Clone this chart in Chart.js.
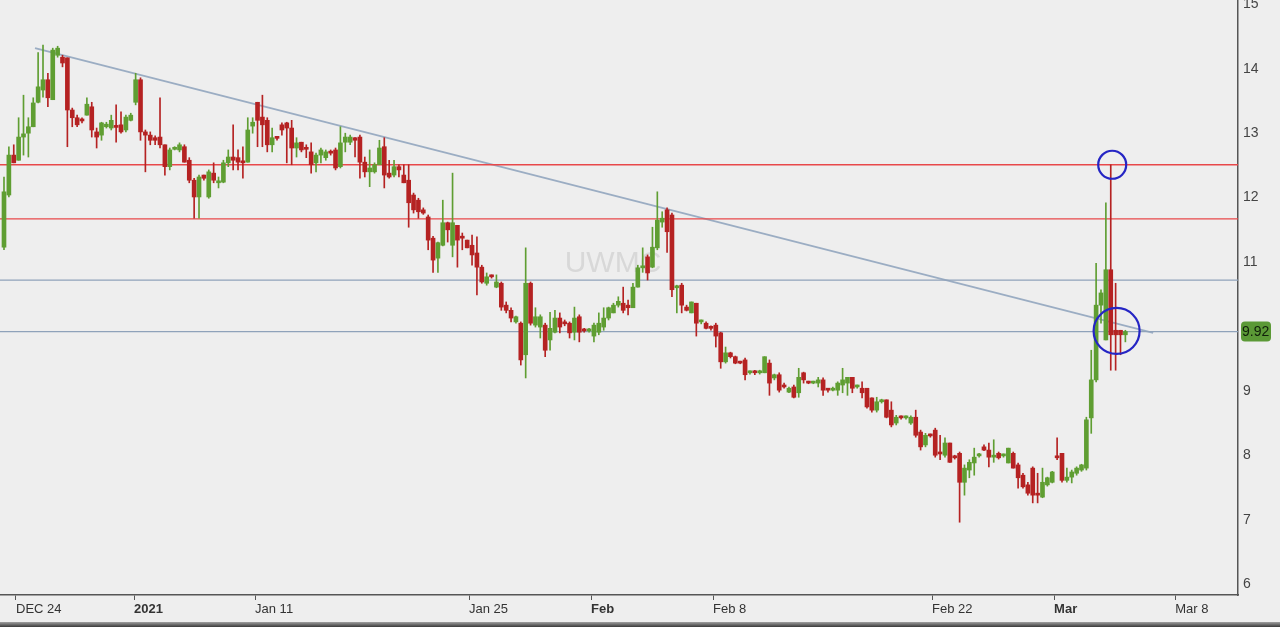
<!DOCTYPE html>
<html>
<head>
<meta charset="utf-8">
<script src="https://cdn.jsdelivr.net/npm/chart.js@4.4.0/dist/chart.umd.min.js"></script>
<style>
  html, body { margin: 0; padding: 0; background: #eeeeee; overflow: hidden; }
  #wrap { position: relative; width: 1280px; height: 627px; }
  #band { position: absolute; left: 0; top: 622px; width: 1280px; height: 5px;
          background: linear-gradient(#a0a0a0, #3a3a3a); }
</style>
</head>
<body>
<div id="wrap">
  <canvas id="chart" width="1280" height="627"></canvas>
  <div id="band"></div>
</div>
<script>
// UWMC hourly-ish candles, Dec 23 -> Mar 3
const opens = [
  11.23,12.04,12.66,12.58,12.94,13.00,13.10,13.48,13.67,13.83,
  13.52,14.21,14.18,14.17,13.36,13.24,13.20,13.28,13.41,13.02,
  12.97,13.10,13.08,13.11,13.13,13.05,13.20,13.48,13.83,13.02,
  12.97,12.93,12.94,12.82,12.48,12.75,12.74,12.79,12.58,12.27,
  12.01,12.35,12.01,12.38,12.23,12.24,12.54,12.63,12.62,12.57,
  12.55,13.11,13.48,13.25,13.20,12.82,12.93,13.13,13.16,13.08,
  12.77,12.86,12.77,12.71,12.54,12.66,12.62,12.71,12.74,12.48,
  12.86,12.86,12.93,12.94,12.55,12.40,12.40,12.51,12.79,12.38,
  12.35,12.48,12.35,12.27,12.04,11.96,11.81,11.70,11.37,11.06,
  11.26,11.61,11.26,11.57,11.39,11.34,11.26,11.14,10.92,10.67,
  10.80,10.61,10.67,10.33,10.25,10.07,10.05,9.56,10.67,10.02,
  9.99,10.02,9.79,9.91,10.13,10.07,10.05,9.91,10.15,9.96,
  9.93,9.85,9.91,9.99,10.13,10.21,10.33,10.36,10.33,10.29,
  10.61,10.91,11.08,10.92,11.22,11.62,11.81,11.73,10.60,10.64,
  10.30,10.21,10.36,10.07,10.05,9.99,10.02,9.90,9.45,9.59,
  9.53,9.45,9.48,9.28,9.29,9.28,9.28,9.43,9.20,9.25,
  9.07,8.98,9.06,8.97,9.28,9.14,9.12,9.12,9.17,9.03,
  9.01,9.01,9.09,9.12,9.21,9.06,9.04,9.04,8.89,8.70,
  8.83,8.86,8.70,8.50,8.59,8.58,8.50,8.59,8.36,8.16,
  8.31,8.39,8.05,8.00,8.19,7.99,8.03,7.58,7.77,7.88,
  7.99,8.13,8.08,7.97,8.03,7.99,7.88,8.03,7.85,7.69,
  7.54,7.80,7.41,7.35,7.54,7.58,7.99,8.03,7.61,7.66,
  7.72,7.77,7.80,8.58,9.17,10.33,9.79,10.88,9.94,9.94,
  9.87
];
const highs = [
  12.32,12.79,12.82,13.24,13.59,13.24,13.55,14.25,14.37,13.93,
  14.32,14.35,14.21,14.17,13.39,13.28,13.24,13.55,13.48,13.08,
  13.17,13.17,13.28,13.44,13.33,13.28,13.31,13.93,13.86,13.05,
  13.02,12.96,13.55,12.82,12.77,12.79,12.85,12.82,12.62,12.30,
  12.35,12.35,12.43,12.54,12.32,12.58,12.74,13.13,12.74,12.79,
  13.24,13.24,13.48,13.59,13.24,13.08,12.94,13.16,13.17,13.20,
  12.93,12.86,12.82,12.85,12.69,12.77,12.74,12.74,12.77,13.10,
  13.00,12.97,12.93,12.97,12.63,12.74,12.54,12.89,12.93,12.58,
  12.58,12.51,12.51,12.51,12.07,11.99,11.84,11.73,11.40,11.31,
  11.96,11.62,12.38,11.57,11.45,11.34,11.42,11.39,10.95,10.83,
  10.80,10.80,10.69,10.38,10.29,10.16,10.07,11.22,10.69,10.29,
  10.18,10.05,10.22,10.25,10.21,10.10,10.07,10.30,10.18,9.97,
  9.97,10.05,10.21,10.29,10.30,10.36,10.46,10.61,10.41,10.67,
  10.95,11.22,11.11,11.54,12.09,11.78,11.84,11.76,10.64,10.67,
  10.33,10.38,10.36,10.10,10.07,10.01,10.05,9.91,9.68,9.60,
  9.54,9.46,9.51,9.31,9.32,9.32,9.53,9.48,9.26,9.28,
  9.12,9.06,9.09,9.35,9.29,9.15,9.15,9.21,9.20,9.04,
  9.06,9.14,9.35,9.21,9.21,9.09,9.14,9.04,8.89,8.90,
  8.87,8.86,8.83,8.62,8.61,8.61,8.61,8.70,8.39,8.34,
  8.33,8.42,8.31,8.27,8.19,8.00,8.05,7.85,7.93,8.11,
  8.03,8.16,8.19,8.24,8.05,8.02,8.11,8.05,7.88,7.72,
  7.58,7.82,7.72,7.80,7.66,7.75,8.27,8.03,7.80,7.77,
  7.82,7.86,8.59,9.63,10.98,10.57,11.92,12.51,10.67,9.94,
  9.94
];
const lows = [
  11.19,12.01,12.54,12.58,12.66,12.63,13.10,13.47,13.56,13.41,
  13.52,14.18,14.03,12.79,13.10,13.10,13.16,13.28,12.94,12.77,
  12.89,13.08,13.05,12.86,13.00,13.02,13.19,13.44,12.89,12.40,
  12.82,12.82,12.77,12.35,12.43,12.74,12.71,12.55,12.23,11.68,
  11.68,12.27,11.99,12.23,12.15,12.23,12.48,12.43,12.43,12.30,
  12.55,13.00,12.79,12.79,12.71,12.71,12.89,12.97,12.54,12.51,
  12.63,12.71,12.62,12.38,12.40,12.54,12.58,12.66,12.43,12.46,
  12.71,12.82,12.63,12.30,12.32,12.17,12.38,12.51,12.15,12.30,
  12.32,12.32,12.23,11.54,11.76,11.68,11.74,11.19,10.84,10.84,
  11.25,11.31,11.08,10.92,11.19,11.22,10.95,10.49,10.67,10.64,
  10.75,10.60,10.25,10.21,10.07,10.05,9.40,9.20,10.02,9.99,
  9.82,9.53,9.63,9.90,9.90,10.01,9.82,9.79,9.76,9.91,
  9.91,9.76,9.87,9.94,10.10,10.21,10.30,10.21,10.18,10.29,
  10.61,10.84,10.72,10.91,11.19,11.54,11.15,10.46,10.21,10.21,
  10.24,10.21,9.85,10.04,9.96,9.94,9.68,9.35,9.43,9.51,
  9.42,9.42,9.17,9.26,9.25,9.26,9.28,8.93,9.17,8.98,
  9.04,8.97,8.89,8.90,9.12,9.11,9.11,9.06,8.93,8.98,
  9.00,8.93,8.97,8.93,8.97,9.04,8.89,8.73,8.67,8.67,
  8.81,8.58,8.44,8.47,8.56,8.56,8.48,8.28,8.08,8.13,
  8.28,7.97,7.93,7.97,7.89,7.94,6.96,7.38,7.65,7.69,
  7.97,8.07,7.82,7.89,7.94,7.97,7.88,7.80,7.49,7.49,
  7.38,7.26,7.26,7.34,7.52,7.57,7.93,7.58,7.58,7.57,
  7.69,7.75,7.77,8.34,9.14,10.05,9.79,9.32,9.32,9.56,
  9.76
];
const closes = [
  12.09,12.66,12.54,12.94,12.99,13.10,13.47,13.72,13.83,13.55,
  14.29,14.32,14.09,13.36,13.24,13.13,13.19,13.45,13.05,12.94,
  13.16,13.14,13.20,13.09,13.02,13.25,13.28,13.83,13.02,12.97,
  12.89,12.89,12.82,12.48,12.74,12.77,12.82,12.55,12.27,12.01,
  12.32,12.30,12.40,12.27,12.26,12.54,12.63,12.58,12.55,12.54,
  13.05,13.17,13.20,13.13,12.82,12.93,12.92,13.05,13.08,12.77,
  12.85,12.74,12.75,12.51,12.66,12.74,12.71,12.69,12.46,12.85,
  12.94,12.94,12.89,12.55,12.40,12.46,12.51,12.77,12.35,12.32,
  12.48,12.43,12.23,11.92,11.81,11.78,11.76,11.34,11.03,11.30,
  11.61,11.50,11.61,11.34,11.37,11.22,11.11,10.92,10.69,10.77,
  10.77,10.69,10.30,10.25,10.13,10.15,9.48,10.67,10.05,10.15,
  10.15,9.63,9.97,10.13,9.99,10.04,9.90,10.13,9.91,9.93,
  9.96,10.02,10.05,10.13,10.29,10.33,10.39,10.25,10.29,10.61,
  10.91,10.94,10.83,11.23,11.65,11.68,11.47,10.57,10.63,10.33,
  10.25,10.38,10.05,10.08,9.97,9.97,9.85,9.45,9.59,9.53,
  9.43,9.43,9.25,9.29,9.28,9.31,9.53,9.12,9.25,9.01,
  9.06,9.04,8.90,9.21,9.17,9.12,9.14,9.17,9.01,9.01,
  9.04,9.12,9.17,9.21,9.04,9.07,8.97,8.75,8.70,8.83,
  8.86,8.59,8.47,8.59,8.58,8.59,8.59,8.31,8.13,8.31,
  8.30,8.00,8.02,8.19,7.89,7.96,7.58,7.80,7.89,7.97,
  8.02,8.08,7.97,8.00,7.96,8.00,8.11,7.80,7.65,7.51,
  7.41,7.38,7.38,7.58,7.65,7.74,7.96,7.61,7.66,7.74,
  7.80,7.85,8.55,9.17,10.33,10.52,10.88,9.87,9.87,9.87,
  9.92
];

// x axis: candle index; date labels sit at these index positions
const tickPos = [2.46, 26.67, 51.49, 95.38, 120.41, 145.44, 190.36, 215.38, 240.21];
const tickLabels = ['DEC 24', '2021', 'Jan 11', 'Jan 25', 'Feb', 'Feb 8', 'Feb 22', 'Mar', 'Mar 8'];
const boldLabels = ['2021', 'Feb', 'Mar'];
const yTicks = [6, 7, 8, 9, 11, 12, 13, 14, 15];

// drawn levels
const redLevels = [12.51, 11.67];
const blueLevels = [10.72, 9.92];
const trendX = [6.36, 235.7];
const trendY = [14.32, 9.90];
const circleX = [227.3, 228.2];
const circleY = [12.51, 9.93];
const circleR = [14, 23];
const lastPrice = 9.92;

const X_MIN = -0.82, X_MAX = 253.1;
const Y_MIN = 5.83, Y_MAX = 15.068;

const GREEN = '#5f9e32';
const RED = '#b52222';
const FONT = "'Liberation Sans', Arial, sans-serif";

Chart.defaults.font.family = FONT;

const idx = opens.map((_, i) => i);
const candleColors = idx.map(i => closes[i] >= opens[i] ? GREEN : RED);

function hLine(v, color) {
  return {
    type: 'line',
    data: [{x: X_MIN, y: v}, {x: X_MAX, y: v}],
    borderColor: color, borderWidth: 1.3, pointRadius: 0, order: 3
  };
}

const watermark = {
  id: 'watermark',
  beforeDatasetsDraw(chart) {
    const c = chart.ctx;
    c.save();
    c.font = '30px ' + FONT;
    c.fillStyle = '#d8d8d8';
    c.textAlign = 'center';
    c.textBaseline = 'middle';
    c.fillText('UWMC', 613, 264);
    c.restore();
  }
};

const priceTag = {
  id: 'priceTag',
  afterDraw(chart) {
    const c = chart.ctx;
    const y = chart.scales.y.getPixelForValue(lastPrice);
    const x = chart.chartArea.right + 3;
    c.save();
    c.fillStyle = '#5b9936';
    c.beginPath();
    c.roundRect(x, y - 10, 30, 20, 4);
    c.fill();
    c.fillStyle = '#10200a';
    c.font = '14px ' + FONT;
    c.textBaseline = 'middle';
    c.fillText(lastPrice.toFixed(2), x + 1, y + 1);
    c.restore();
  }
};

new Chart(document.getElementById('chart'), {
  type: 'bar',
  data: {
    datasets: [
      hLine(redLevels[0], '#e8484a'),
      hLine(redLevels[1], '#e8484a'),
      hLine(blueLevels[0], '#8fa2ba'),
      hLine(blueLevels[1], '#8fa2ba'),
      {
        type: 'line',
        data: trendX.map((x, i) => ({x: x, y: trendY[i]})),
        borderColor: '#9badc3', borderWidth: 1.8, pointRadius: 0, order: 3
      },
      {
        label: 'wick',
        data: idx.map(i => ({x: i, y: [lows[i], highs[i]]})),
        backgroundColor: candleColors,
        barThickness: 1, minBarLength: 1, grouped: false, order: 2
      },
      {
        label: 'body',
        data: idx.map(i => ({x: i, y: [Math.min(opens[i], closes[i]), Math.max(opens[i], closes[i])]})),
        backgroundColor: candleColors,
        barThickness: 4, minBarLength: 2, grouped: false, order: 1
      },
      {
        type: 'line', showLine: false,
        data: circleX.map((x, i) => ({x: x, y: circleY[i]})),
        pointRadius: circleR, pointBorderColor: '#2525c4',
        pointBackgroundColor: 'rgba(0,0,0,0)', pointBorderWidth: 2.2, order: 0
      }
    ]
  },
  options: {
    responsive: false,
    animation: false,
    events: [],
    layout: { padding: 0, autoPadding: false },
    plugins: { legend: { display: false }, tooltip: { enabled: false } },
    scales: {
      x: {
        type: 'linear', min: X_MIN, max: X_MAX, offset: false,
        afterBuildTicks: s => { s.ticks = tickPos.map(v => ({value: v})); },
        afterFit: s => { s.height = 32; s.paddingLeft = 0; s.paddingRight = 0; },
        ticks: {
          autoSkip: false, maxRotation: 0, align: 'start', padding: 2, color: '#333',
          font: ctx => ({ family: FONT, size: 13,
            weight: boldLabels.includes(tickLabels[ctx.index]) ? 'bold' : 'normal' }),
          callback: (v, i) => tickLabels[i]
        },
        grid: { offset: false, drawOnChartArea: false, drawTicks: true, tickLength: 5, color: '#555' },
        border: { display: true, color: '#555', width: 1.5 }
      },
      y: {
        type: 'linear', position: 'right', min: Y_MIN, max: Y_MAX,
        afterBuildTicks: s => { s.ticks = yTicks.map(v => ({value: v})); },
        afterFit: s => { s.width = 42; s.paddingTop = 0; s.paddingBottom = 0; },
        ticks: { color: '#444', padding: 5, font: { size: 14 }, callback: v => String(v) },
        grid: { drawOnChartArea: false, drawTicks: false },
        border: { display: true, color: '#555', width: 1.5 }
      }
    }
  },
  plugins: [watermark, priceTag]
});
</script>
</body>
</html>
